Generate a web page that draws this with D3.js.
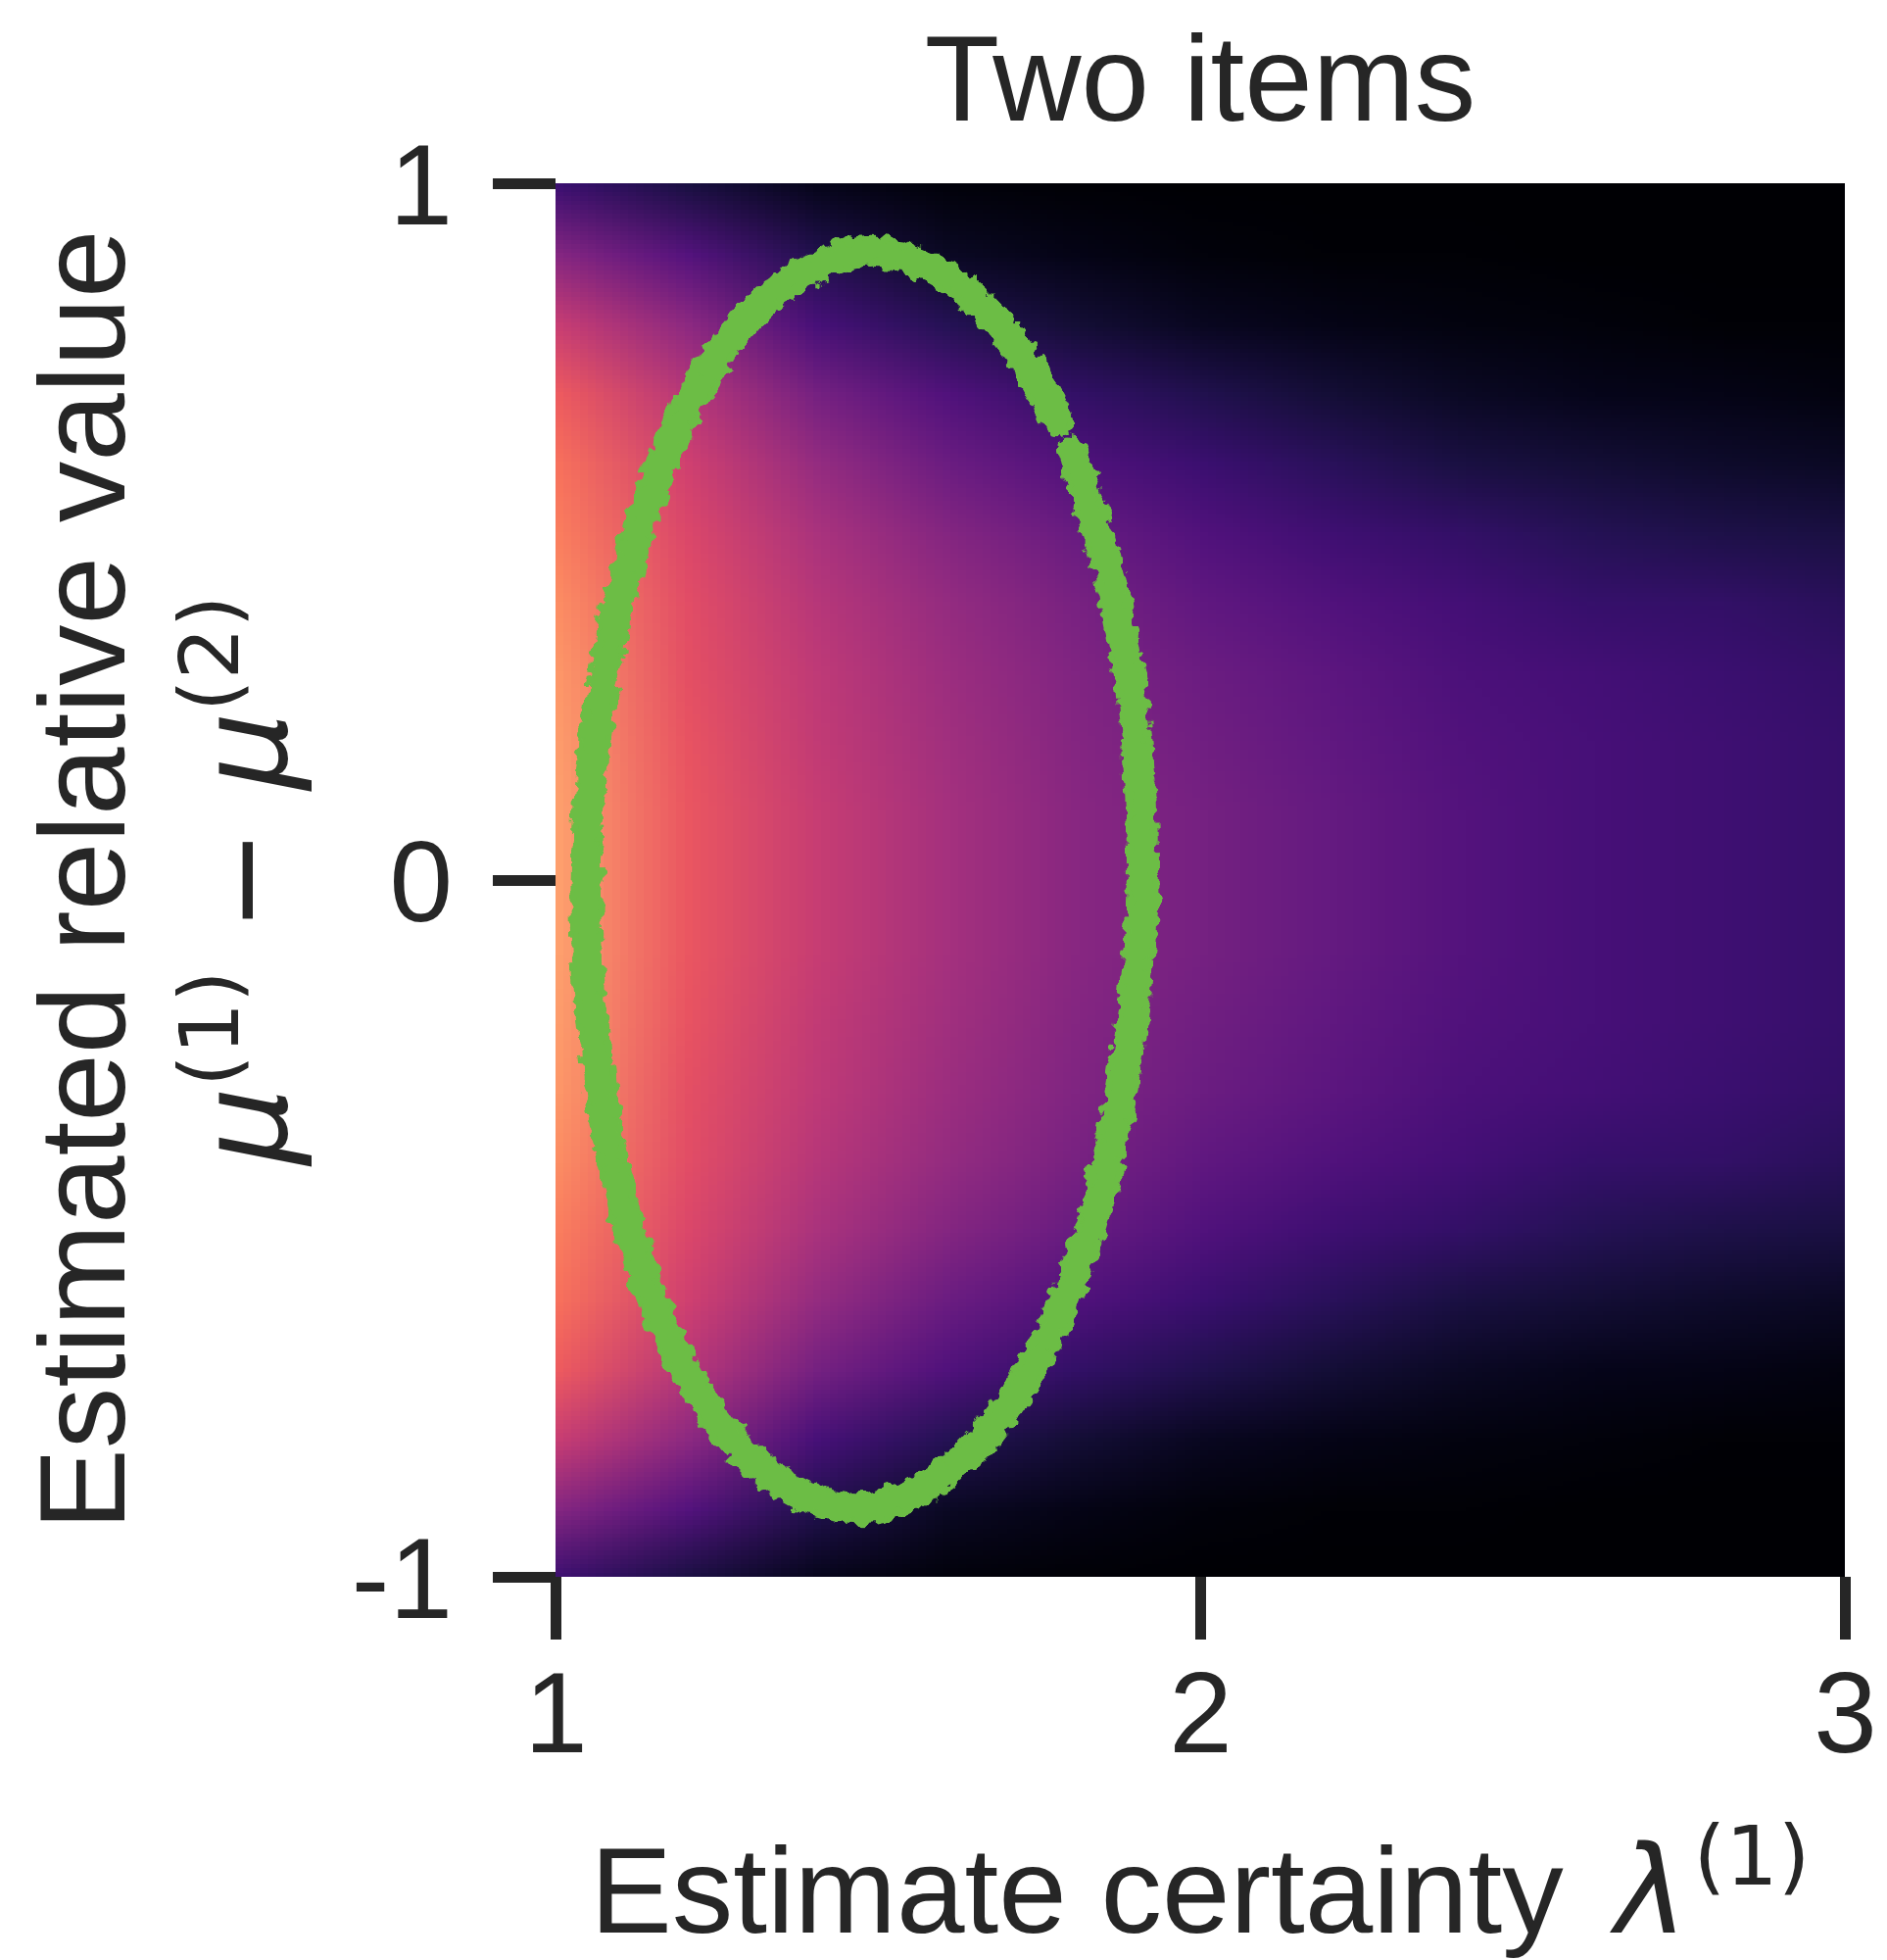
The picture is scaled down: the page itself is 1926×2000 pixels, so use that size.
<!DOCTYPE html>
<html>
<head>
    <meta charset="utf-8">
    <title>Two items</title>
    <style>
        body { margin: 0; background: #fff; }
        text { fill: #262626; }
    </style>
</head>
<body>
    <script src="https://cdnjs.cloudflare.com/ajax/libs/d3/7.9.0/d3.min.js"></script>
    <script>

        // heatmap grid (magma colour position)
        const lambdaGrid = [1.0, 1.2, 1.4, 1.6, 1.8, 2.0, 2.2, 2.4, 2.6, 2.8, 3.0];
        const muGrid = [1.0, 0.9, 0.8, 0.7, 0.6, 0.5, 0.4, 0.3, 0.2, 0.1, 0.0,
                        -0.1, -0.2, -0.3, -0.4, -0.5, -0.6, -0.7, -0.8, -0.9, -1.0];
        const intensity = [
            [0.20, 0.12, 0.05, 0.02, 0.01, 0.00, 0.00, 0.00, 0.00, 0.00, 0.00],
            [0.38, 0.26, 0.14, 0.07, 0.04, 0.02, 0.01, 0.01, 0.00, 0.00, 0.00],
            [0.54, 0.40, 0.23, 0.15, 0.10, 0.06, 0.04, 0.03, 0.02, 0.01, 0.01],
            [0.65, 0.50, 0.34, 0.25, 0.18, 0.14, 0.10, 0.07, 0.05, 0.04, 0.03],
            [0.70, 0.56, 0.42, 0.32, 0.25, 0.20, 0.16, 0.12, 0.10, 0.08, 0.07],
            [0.73, 0.59, 0.47, 0.38, 0.31, 0.25, 0.21, 0.18, 0.15, 0.13, 0.12],
            [0.76, 0.61, 0.50, 0.42, 0.35, 0.29, 0.25, 0.22, 0.19, 0.18, 0.16],
            [0.78, 0.62, 0.52, 0.44, 0.37, 0.32, 0.28, 0.24, 0.22, 0.20, 0.18],
            [0.79, 0.63, 0.53, 0.45, 0.38, 0.33, 0.29, 0.25, 0.23, 0.21, 0.19],
            [0.80, 0.64, 0.54, 0.46, 0.39, 0.34, 0.30, 0.26, 0.23, 0.21, 0.19],
            [0.80, 0.64, 0.54, 0.46, 0.39, 0.34, 0.30, 0.26, 0.23, 0.21, 0.19],
            [0.80, 0.64, 0.54, 0.46, 0.39, 0.34, 0.30, 0.26, 0.23, 0.21, 0.19],
            [0.79, 0.63, 0.53, 0.45, 0.38, 0.33, 0.29, 0.25, 0.23, 0.21, 0.19],
            [0.78, 0.62, 0.52, 0.44, 0.37, 0.32, 0.28, 0.24, 0.22, 0.20, 0.18],
            [0.76, 0.61, 0.50, 0.42, 0.35, 0.29, 0.25, 0.22, 0.19, 0.18, 0.16],
            [0.73, 0.59, 0.47, 0.38, 0.31, 0.25, 0.21, 0.18, 0.15, 0.13, 0.12],
            [0.70, 0.56, 0.42, 0.32, 0.25, 0.20, 0.16, 0.12, 0.10, 0.08, 0.07],
            [0.65, 0.50, 0.34, 0.25, 0.18, 0.14, 0.10, 0.07, 0.05, 0.04, 0.03],
            [0.54, 0.40, 0.23, 0.15, 0.10, 0.06, 0.04, 0.03, 0.02, 0.01, 0.01],
            [0.38, 0.26, 0.14, 0.07, 0.04, 0.02, 0.01, 0.01, 0.00, 0.00, 0.00],
            [0.20, 0.12, 0.05, 0.02, 0.01, 0.00, 0.00, 0.00, 0.00, 0.00, 0.00]
        ];

        // green ring outline (small break at upper right)
        const ringLambda = [1.780, 1.703, 1.601, 1.490, 1.379, 1.273, 1.182, 1.112, 1.066, 1.048,
                            1.060, 1.100, 1.166, 1.253, 1.355, 1.466, 1.577, 1.683, 1.774, 1.844,
                            1.890, 1.910, 1.898, 1.856, 1.800];
        const ringMu = [0.658, 0.779, 0.869, 0.902, 0.869, 0.779, 0.636, 0.450, 0.233, 0.000,
                        -0.233, -0.450, -0.636, -0.779, -0.869, -0.902, -0.869, -0.779, -0.636, -0.450,
                        -0.233, 0.000, 0.233, 0.450, 0.614];

        const xTicks = [1, 2, 3];
        const yTicks = [-1, 0, 1];

        const width = 1926;
        const height = 2000;
        const plot = {left: 567, right: 1883, top: 187, bottom: 1609};

        const svg = d3.select("body")
            .append("svg")
            .attr("width", width)
            .attr("height", height);

        const x = d3.scaleLinear().domain([1, 3]).range([plot.left, plot.right]);
        const y = d3.scaleLinear().domain([-1, 1]).range([plot.bottom, plot.top]);
        const color = d3.scaleSequential(d3.interpolateMagma).domain([0, 1]);

        const defs = svg.append("defs");
        defs.append("clipPath").attr("id", "plotclip")
            .append("rect")
            .attr("x", plot.left).attr("y", plot.top)
            .attr("width", plot.right - plot.left).attr("height", plot.bottom - plot.top);

        // roughen the ring edges, two noise seeds
        [["roughA", 4, 18], ["roughB", 11, 24]].forEach(([id, seed, scale]) => {
            const f = defs.append("filter").attr("id", id)
                .attr("filterUnits", "userSpaceOnUse")
                .attr("x", 0).attr("y", 0).attr("width", width).attr("height", height);
            f.append("feTurbulence")
                .attr("type", "fractalNoise").attr("baseFrequency", 0.08)
                .attr("numOctaves", 2).attr("seed", seed).attr("result", "noise");
            f.append("feDisplacementMap")
                .attr("in", "SourceGraphic").attr("in2", "noise").attr("scale", scale)
                .attr("xChannelSelector", "R").attr("yChannelSelector", "G");
        });

        // heatmap: one pixel per grid cell, smoothed when stretched (like imshow interpolation)
        const cv = document.createElement("canvas");
        cv.width = lambdaGrid.length;
        cv.height = muGrid.length;
        const ctx = cv.getContext("2d");
        const img = ctx.createImageData(cv.width, cv.height);
        muGrid.forEach((m, j) => {
            lambdaGrid.forEach((l, i) => {
                const c = d3.rgb(color(intensity[j][i]));
                const k = (j * cv.width + i) * 4;
                img.data[k] = c.r; img.data[k + 1] = c.g; img.data[k + 2] = c.b; img.data[k + 3] = 255;
            });
        });
        ctx.putImageData(img, 0, 0);

        const dl = lambdaGrid[1] - lambdaGrid[0];
        const dm = muGrid[0] - muGrid[1];
        svg.append("g").attr("clip-path", "url(#plotclip)")
            .append("image")
            .attr("href", cv.toDataURL())
            .attr("preserveAspectRatio", "none")
            .attr("x", x(lambdaGrid[0] - dl / 2))
            .attr("y", y(muGrid[0] + dm / 2))
            .attr("width", x(lambdaGrid[lambdaGrid.length - 1] + dl / 2) - x(lambdaGrid[0] - dl / 2))
            .attr("height", y(muGrid[muGrid.length - 1] - dm / 2) - y(muGrid[0] + dm / 2))
            .style("image-rendering", "auto");

        // ring
        const ring = ringLambda.map((l, i) => [l, ringMu[i]]);
        const ringLine = d3.line().x(d => x(d[0])).y(d => y(d[1])).curve(d3.curveCatmullRom);
        svg.append("path")
            .datum(ring)
            .attr("d", ringLine)
            .attr("fill", "none")
            .attr("stroke", "#6cbd45")
            .attr("stroke-width", 32)
            .attr("stroke-linecap", "round")
            .attr("filter", "url(#roughA)");
        svg.append("path")
            .datum(ring)
            .attr("d", ringLine)
            .attr("fill", "none")
            .attr("stroke", "#6cbd45")
            .attr("stroke-width", 24)
            .attr("stroke-linecap", "round")
            .attr("filter", "url(#roughB)");

        // axes
        const yAxis = svg.append("g")
            .attr("transform", `translate(${plot.left},0)`)
            .call(d3.axisLeft(y).tickValues(yTicks).tickSize(64).tickPadding(41).tickFormat(d3.format("d")));
        const xAxis = svg.append("g")
            .attr("transform", `translate(0,${plot.bottom})`)
            .call(d3.axisBottom(x).tickValues(xTicks).tickSize(64).tickPadding(33).tickFormat(d3.format("d")));

        [xAxis, yAxis].forEach(a => {
            a.select(".domain").remove();
            a.selectAll(".tick line").attr("stroke", "#262626").attr("stroke-width", 11);
            a.selectAll(".tick text")
                .attr("fill", "#262626")
                .attr("font-family", "Liberation Sans, Arial, sans-serif")
                .attr("font-size", 116);
        });
        yAxis.selectAll(".tick text").text(d => d < 0 ? "-" + Math.abs(d) : d).attr("dy", "0.36em");

        // title
        svg.append("text")
            .attr("x", (plot.left + plot.right) / 2)
            .attr("y", 123)
            .attr("text-anchor", "middle")
            .attr("font-family", "Liberation Sans, Arial, sans-serif")
            .attr("font-size", 125)
            .text("Two items");

        // x label
        const xl = svg.append("text")
            .attr("x", (plot.left + plot.right) / 2)
            .attr("y", 1972)
            .attr("text-anchor", "middle")
            .attr("font-family", "Liberation Sans, Arial, sans-serif")
            .attr("font-size", 125);
        xl.append("tspan").text("Estimate certainty ");
        xl.append("tspan").attr("dx", 18).attr("font-family", "DejaVu Sans").attr("font-style", "italic").text("λ");
        xl.append("tspan").attr("dx", 6).attr("font-family", "DejaVu Sans").attr("font-size", 84).attr("dy", -49).text("(1)");

        // y label, two lines
        const cy = (plot.top + plot.bottom) / 2;
        svg.append("text")
            .attr("transform", `translate(127,${cy}) rotate(-90)`)
            .attr("text-anchor", "middle")
            .attr("font-family", "Liberation Sans, Arial, sans-serif")
            .attr("font-size", 125)
            .text("Estimated relative value");

        const yl2 = svg.append("text")
            .attr("transform", `translate(292,${cy}) rotate(-90)`)
            .attr("text-anchor", "middle")
            .attr("font-family", "DejaVu Sans")
            .attr("font-size", 125);
        yl2.append("tspan").attr("font-style", "italic").text("μ");
        yl2.append("tspan").attr("font-size", 84).attr("dy", -49).text("(1)");
        yl2.append("tspan").attr("dy", 49).text(" − ");
        yl2.append("tspan").attr("font-style", "italic").text("μ");
        yl2.append("tspan").attr("font-size", 84).attr("dy", -49).text("(2)");

    </script>
</body>
</html>
